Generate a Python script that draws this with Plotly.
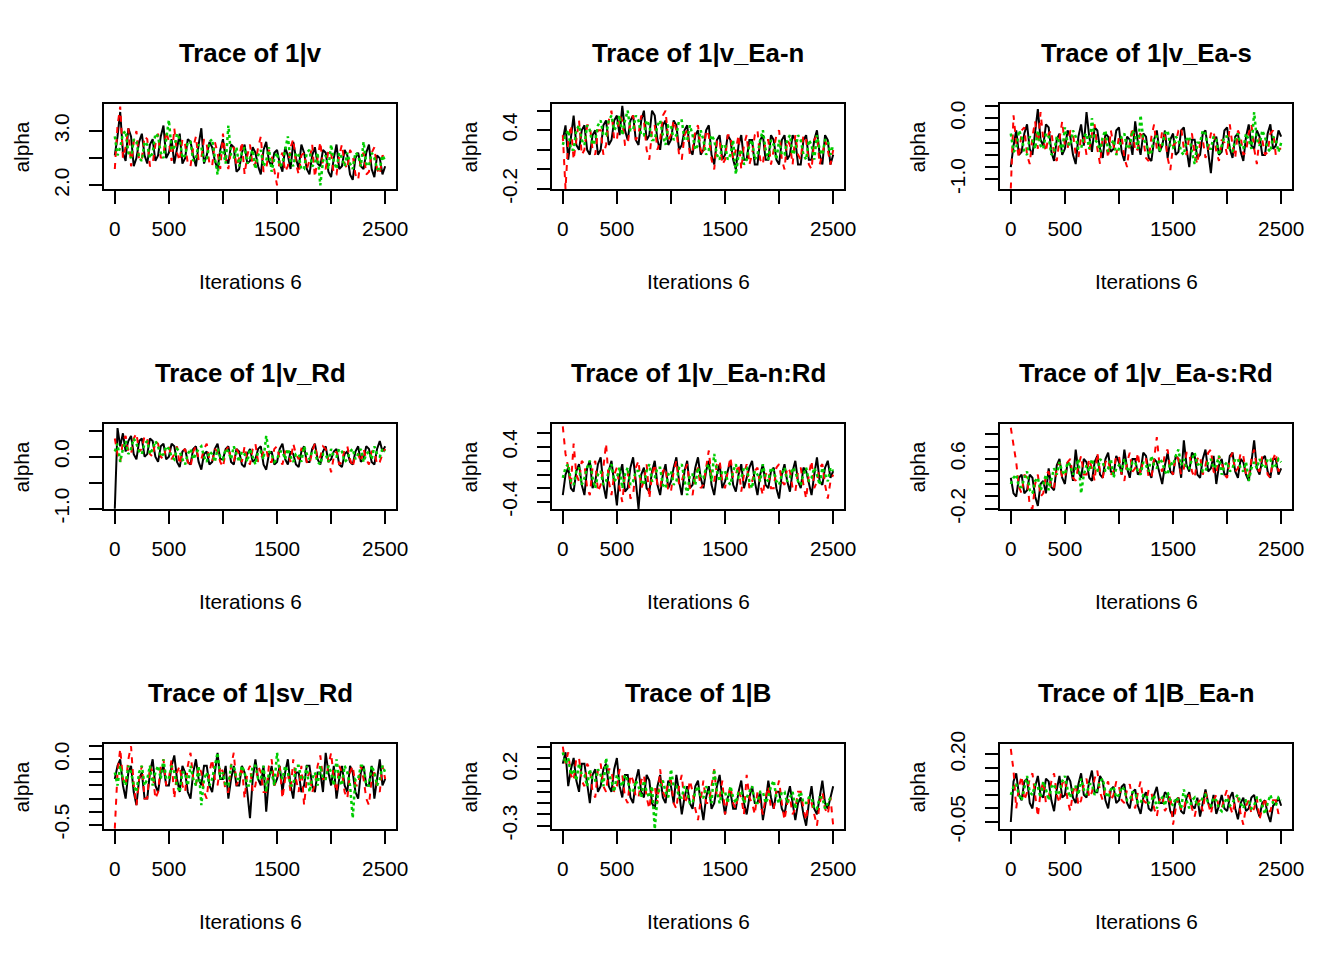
import plotly.graph_objects as go

iterations = list(range(0, 2501, 25))

titles = ["Trace of 1|v", "Trace of 1|v_Ea-n", "Trace of 1|v_Ea-s",
          "Trace of 1|v_Rd", "Trace of 1|v_Ea-n:Rd", "Trace of 1|v_Ea-s:Rd",
          "Trace of 1|sv_Rd", "Trace of 1|B", "Trace of 1|B_Ea-n"]
x_label = "Iterations 6"
y_label = "alpha"
x_tickvals = [0, 500, 1000, 1500, 2000, 2500]
x_ticktext = ["0", "500", "", "1500", "", "2500"]

chain_colors = ["#000000", "#FF0000", "#00CD00"]
chain_dash = ["solid", "6px,6px", "3px,3px"]
chain_width = [2, 2, 2.5]

# ---- panel 1: 1|v
p1_c1 = [2.55, 2.9, 3.35, 2.6, 2.45, 3.05, 2.9, 2.35, 2.5, 2.8,
         2.95, 2.55, 2.4, 2.75, 2.85, 2.45, 2.55, 2.9, 3.1, 2.5,
         2.6, 2.85, 2.4, 2.7, 2.95, 2.4, 2.5, 2.85, 2.8, 2.55,
         2.35, 2.75, 3.05, 2.4, 2.55, 2.8, 2.7, 2.45, 2.3, 2.65,
         2.85, 2.5, 2.4, 2.75, 2.7, 2.25, 2.3, 2.6, 2.75, 2.4,
         2.45, 2.7, 2.6, 2.35, 2.2, 2.65, 2.8, 2.45, 2.35, 2.6,
         2.65, 2.4, 2.25, 2.7, 2.55, 2.3, 2.8, 2.5, 2.3, 2.75,
         2.6, 2.3, 2.2, 2.55, 2.7, 2.4, 2.35, 2.65, 2.6, 2.25,
         2.15, 2.5, 2.75, 2.3, 2.35, 2.65, 2.55, 2.2, 2.1, 2.5,
         2.6, 2.35, 2.3, 2.6, 2.75, 2.3, 2.15, 2.55, 2.5, 2.2,
         2.35]
p1_c2 = [2.3, 3.1, 3.45, 2.5, 2.7, 3.05, 2.35, 2.8, 3.0, 2.45,
         2.5, 2.9, 2.85, 2.35, 2.4, 2.75, 2.95, 2.5, 2.55, 3.0,
         2.8, 2.45, 3.05, 2.6, 2.45, 2.85, 2.75, 2.4, 2.35, 2.7,
         2.9, 2.45, 2.5, 2.85, 2.75, 2.4, 2.35, 2.8, 2.6, 2.3,
         2.95, 2.5, 2.3, 2.65, 2.7, 2.35, 2.5, 2.8, 2.2, 2.55,
         2.75, 2.35, 2.4, 2.7, 2.9, 2.25, 2.3, 2.65, 2.55, 2.3,
         2.0, 2.5, 2.6, 2.25, 2.35, 2.7, 2.85, 2.4, 2.2, 2.55,
         2.6, 2.3, 2.45, 2.75, 2.15, 2.5, 2.8, 2.35, 2.3, 2.65,
         2.6, 2.2, 2.2, 2.55, 2.75, 2.4, 2.3, 2.65, 2.55, 2.2,
         2.1, 2.5, 2.6, 2.2, 2.25, 2.6, 2.7, 2.3, 2.2, 2.55,
         2.5]
p1_c3 = [2.9, 2.55, 2.7, 2.95, 3.0, 2.6, 2.5, 2.85, 2.8, 2.5,
         2.45, 2.8, 2.75, 2.5, 2.6, 2.95, 2.9, 2.6, 2.5, 2.85,
         3.2, 2.65, 2.7, 2.95, 2.85, 2.5, 2.55, 2.8, 2.8, 2.45,
         2.5, 2.75, 2.7, 2.45, 2.45, 2.8, 2.85, 2.5, 2.2, 2.6,
         2.65, 2.4, 3.1, 2.55, 2.5, 2.7, 2.35, 2.6, 2.7, 2.4,
         2.5, 2.65, 2.3, 2.55, 2.65, 2.35, 2.45, 2.7, 2.25, 2.5,
         2.6, 2.35, 2.4, 2.65, 2.9, 2.45, 2.35, 2.6, 2.55, 2.3,
         2.3, 2.6, 2.65, 2.35, 2.4, 2.6, 2.0, 2.45, 2.55, 2.3,
         2.75, 2.45, 2.3, 2.6, 2.5, 2.35, 2.6, 2.4, 2.3, 2.6,
         2.55, 2.35, 2.8, 2.4, 2.35, 2.6, 2.5, 2.3, 2.3, 2.55,
         2.45]

# ---- panel 2: 1|v_Ea-n
p2_c1 = [0.3, 0.45, 0.1, 0.35, 0.55, 0.25, 0.2, 0.4, 0.45, 0.2,
         0.15, 0.35, 0.4, 0.15, 0.2, 0.45, 0.5, 0.25, 0.3, 0.5,
         0.55, 0.35, 0.65, 0.4, 0.3, 0.5, 0.55, 0.3, 0.25, 0.5,
         0.6, 0.3, 0.35, 0.6, 0.55, 0.3, 0.2, 0.45, 0.5, 0.25,
         0.3, 0.5, 0.45, 0.2, 0.25, 0.4, 0.45, 0.2, 0.15, 0.35,
         0.4, 0.15, 0.2, 0.4, 0.45, 0.15, 0.05, 0.3, 0.35, 0.1,
         0.15, 0.35, 0.3, 0.1, 0.0, 0.25, 0.35, 0.1, 0.1, 0.3,
         0.3, 0.05, 0.05, 0.3, 0.35, 0.1, 0.1, 0.35, 0.3, 0.1,
         0.05, 0.3, 0.35, 0.1, 0.15, 0.35, 0.3, 0.05, 0.05, 0.3,
         0.35, 0.1, 0.1, 0.3, 0.4, 0.15, 0.05, 0.35, 0.3, 0.05,
         0.15]
p2_c2 = [0.35, -0.2, 0.3, 0.45, 0.1, 0.3, 0.5, 0.15, 0.2, 0.45,
         0.45, 0.2, 0.15, 0.4, 0.4, 0.15, 0.25, 0.5, 0.6, 0.3,
         0.3, 0.55, 0.5, 0.25, 0.25, 0.5, 0.55, 0.3, 0.35, 0.55,
         0.5, 0.2, 0.1, 0.4, 0.45, 0.2, 0.3, 0.55, 0.6, 0.3,
         0.35, 0.5, 0.4, 0.15, 0.1, 0.35, 0.4, 0.15, 0.2, 0.4,
         0.45, 0.2, 0.15, 0.4, 0.35, 0.1, 0.0, 0.3, 0.3, 0.05,
         0.1, 0.35, 0.35, 0.1, 0.2, 0.35, 0.0, 0.25, 0.35, 0.05,
         0.15, 0.35, 0.4, 0.1, 0.05, 0.3, 0.3, 0.05, 0.2, 0.35,
         0.4, 0.1, 0.0, 0.3, 0.25, 0.05, 0.35, 0.15, 0.1, 0.35,
         0.3, 0.05, 0.0, 0.3, 0.35, 0.05, 0.15, 0.3, 0.2, 0.05,
         0.2]
p2_c3 = [0.25, 0.35, 0.4, 0.2, 0.2, 0.4, 0.45, 0.3, 0.25, 0.45,
         0.4, 0.25, 0.3, 0.45, 0.5, 0.35, 0.35, 0.5, 0.55, 0.4,
         0.45, 0.55, 0.35, 0.5, 0.6, 0.4, 0.4, 0.55, 0.5, 0.35,
         0.35, 0.5, 0.45, 0.3, 0.3, 0.45, 0.5, 0.35, 0.25, 0.45,
         0.45, 0.3, 0.35, 0.5, 0.5, 0.3, 0.3, 0.45, 0.35, 0.2,
         0.25, 0.4, 0.3, 0.15, 0.2, 0.35, 0.3, 0.15, 0.1, 0.25,
         0.25, 0.1, 0.15, 0.3, -0.05, 0.15, 0.2, 0.05, 0.1, 0.25,
         0.3, 0.1, 0.15, 0.3, 0.4, 0.2, 0.1, 0.3, 0.25, 0.1,
         0.3, 0.15, 0.15, 0.3, 0.35, 0.15, 0.2, 0.35, 0.3, 0.15,
         0.1, 0.3, 0.25, 0.1, 0.35, 0.2, 0.15, 0.3, 0.3, 0.15,
         0.25]

# ---- panel 3: 1|v_Ea-s
p3_c1 = [-0.8, -0.45, -0.2, -0.6, -0.55, -0.25, -0.1, -0.5, -0.6, -0.2,
         0.15, -0.35, -0.45, -0.1, -0.15, -0.55, -0.7, -0.35, -0.25, -0.6,
         -0.5, -0.2, -0.3, -0.6, -0.75, -0.3, -0.1, -0.45, 0.1, -0.3,
         -0.55, -0.15, -0.2, -0.5, -0.65, -0.25, -0.3, -0.55, -0.5, -0.2,
         -0.15, -0.55, -0.7, -0.3, -0.35, -0.6, -0.05, -0.4, -0.6, -0.25,
         -0.3, -0.65, -0.7, -0.35, -0.2, -0.55, -0.45, -0.2, -0.65, -0.35,
         -0.25, -0.6, -0.55, -0.2, -0.15, -0.5, -0.8, -0.35, -0.35, -0.65,
         -0.6, -0.25, -0.2, -0.55, -0.9, -0.4, -0.3, -0.6, -0.55, -0.2,
         -0.15, -0.5, -0.65, -0.3, -0.25, -0.55, -0.7, -0.3, -0.1, -0.45,
         -0.5, -0.2, -0.3, -0.6, -0.6, -0.25, -0.1, -0.5, -0.45, -0.2,
         -0.3]
p3_c2 = [-1.15, 0.05, -0.4, -0.65, -0.2, -0.15, -0.6, -0.75, -0.3, -0.05,
         -0.5, 0.1, -0.35, -0.55, -0.25, -0.2, -0.6, -0.7, -0.35, -0.05,
         -0.45, -0.5, -0.2, -0.25, -0.6, -0.65, -0.3, -0.3, -0.6, -0.55,
         -0.25, -0.1, -0.5, -0.75, -0.3, -0.35, -0.65, -0.2, -0.45, -0.6,
         -0.3, -0.3, -0.65, -0.8, -0.4, -0.15, -0.55, -0.5, -0.2, -0.35,
         -0.65, -0.7, -0.3, -0.1, -0.5, -0.55, -0.2, -0.3, -0.65, -0.85,
         -0.45, -0.4, -0.2, -0.15, -0.5, -0.6, -0.3, -0.25, -0.6, -0.75,
         -0.4, -0.35, -0.65, -0.5, -0.25, -0.2, -0.55, -0.7, -0.35, -0.4,
         -0.6, -0.1, -0.45, -0.65, -0.2, -0.3, -0.6, -0.55, -0.25, -0.1,
         -0.5, -0.75, -0.3, -0.35, -0.6, -0.55, -0.25, -0.2, -0.6, -0.5,
         -0.5]
p3_c3 = [-0.25, -0.55, -0.5, -0.2, -0.3, -0.55, -0.6, -0.3, -0.35, -0.5,
         -0.2, -0.45, -0.5, -0.25, -0.3, -0.6, -0.55, -0.3, -0.4, -0.55,
         -0.15, -0.4, -0.45, -0.2, -0.3, -0.5, -0.5, -0.3, -0.25, -0.5,
         0.0, -0.35, -0.4, -0.55, -0.3, -0.2, -0.55, -0.45, -0.35, -0.6,
         -0.5, -0.3, -0.25, -0.5, -0.45, -0.2, -0.3, -0.5, 0.05, -0.35,
         -0.4, -0.6, -0.55, -0.3, -0.3, -0.55, -0.45, -0.25, -0.2, -0.45,
         -0.5, -0.3, -0.35, -0.55, -0.6, -0.35, -0.3, -0.55, -0.75, -0.4,
         -0.4, -0.2, -0.25, -0.5, -0.5, -0.3, -0.35, -0.6, -0.45, -0.3,
         -0.3, -0.5, -0.55, -0.35, -0.25, -0.45, -0.5, -0.25, -0.35, -0.5,
         0.1, -0.35, -0.45, -0.2, -0.3, -0.5, -0.55, -0.3, -0.35, -0.55,
         -0.4]

# ---- panel 4: 1|v_Rd
p4_c1 = [-1.0, 0.55, 0.2, 0.45, 0.1, 0.3, 0.4, 0.05, -0.05, 0.3,
         0.35, 0.0, 0.05, 0.35, 0.3, 0.0, -0.1, 0.2, 0.25, -0.05,
         0.0, 0.25, 0.2, -0.1, -0.2, 0.1, 0.15, -0.1, -0.15, 0.15,
         0.2, -0.1, -0.25, 0.05, 0.1, -0.15, -0.1, 0.15, 0.25, -0.05,
         -0.05, 0.15, 0.2, -0.1, -0.15, 0.15, 0.1, -0.15, -0.2, 0.05,
         0.15, -0.1, -0.05, 0.15, 0.2, -0.15, -0.25, 0.05, 0.1, -0.15,
         -0.1, 0.15, 0.25, -0.05, -0.15, 0.1, 0.05, -0.15, -0.2, 0.1,
         0.2, -0.1, -0.1, 0.15, 0.25, -0.05, -0.15, 0.1, 0.2, -0.1,
         -0.05, 0.1, 0.15, -0.15, -0.2, 0.05, 0.1, -0.1, -0.15, 0.1,
         0.2, -0.1, -0.05, 0.2, 0.15, -0.1, -0.15, 0.15, 0.3, 0.1,
         0.2]
p4_c2 = [0.35, 0.05, -0.1, 0.3, 0.4, 0.1, 0.05, 0.35, 0.45, 0.1,
         0.15, 0.4, 0.35, 0.05, 0.0, 0.3, 0.25, 0.0, -0.05, 0.2,
         0.2, -0.05, 0.05, 0.2, -0.15, 0.1, 0.15, -0.1, -0.2, 0.1,
         0.2, -0.05, -0.05, 0.15, 0.25, -0.05, -0.1, 0.15, 0.1, -0.1,
         -0.2, 0.1, 0.2, -0.05, -0.1, 0.15, 0.05, -0.1, 0.2, -0.05,
         -0.15, 0.15, 0.25, -0.1, -0.05, 0.1, 0.15, -0.1, -0.1, 0.15,
         0.2, -0.05, -0.15, 0.1, 0.1, -0.1, 0.25, 0.05, -0.05, 0.15,
         0.1, -0.1, -0.15, 0.1, 0.25, -0.05, 0.0, 0.2, 0.15, -0.1,
         -0.3, 0.0, 0.1, -0.15, -0.1, 0.15, 0.2, -0.05, -0.2, 0.05,
         0.05, -0.1, 0.15, -0.05, -0.15, 0.1, 0.1, -0.15, -0.1, 0.05,
         0.15]
p4_c3 = [0.1, 0.25, -0.1, 0.15, 0.3, 0.05, 0.15, 0.35, 0.25, 0.1,
         0.05, 0.25, 0.3, 0.05, 0.15, 0.3, 0.2, 0.0, 0.05, 0.2,
         0.15, 0.0, -0.05, 0.15, 0.1, -0.05, -0.15, 0.05, 0.15, -0.05,
         0.05, 0.15, 0.2, 0.0, -0.1, 0.1, 0.05, -0.1, 0.15, 0.0,
         -0.05, 0.15, 0.1, -0.05, 0.2, 0.05, -0.1, 0.1, 0.05, -0.1,
         0.15, 0.0, -0.15, 0.1, 0.1, -0.05, 0.4, 0.1, 0.05, -0.1,
         -0.05, 0.1, 0.1, -0.05, 0.15, 0.0, -0.1, 0.05, 0.05, -0.1,
         0.2, 0.05, -0.05, 0.1, 0.1, -0.1, -0.15, 0.05, 0.05, -0.1,
         0.15, 0.0, 0.0, 0.15, 0.1, -0.1, -0.05, 0.1, 0.15, -0.05,
         0.05, 0.15, -0.1, 0.05, 0.1, -0.05, 0.2, 0.05, 0.0, 0.15,
         0.1]

# ---- panel 5: 1|v_Ea-n:Rd
p5_c1 = [-0.3, 0.0, 0.1, -0.2, -0.25, 0.05, 0.15, -0.15, -0.3, 0.1,
         0.2, -0.2, -0.1, 0.15, 0.25, -0.15, -0.35, 0.05, 0.2, -0.1,
         -0.45, 0.0, 0.15, -0.25, -0.2, 0.1, 0.25, -0.1, -0.5, 0.0,
         0.1, -0.2, -0.25, 0.05, 0.2, -0.15, -0.3, 0.0, 0.15, -0.2,
         -0.1, 0.1, 0.25, -0.1, -0.3, 0.05, 0.2, -0.2, -0.15, 0.1,
         0.25, -0.05, -0.2, 0.05, 0.2, -0.15, -0.3, 0.0, 0.15, -0.2,
         -0.1, 0.05, 0.2, -0.15, -0.25, 0.0, 0.15, -0.2, -0.05, 0.1,
         0.2, -0.1, -0.3, 0.0, 0.15, -0.15, -0.2, 0.05, 0.1, -0.2,
         -0.35, 0.0, 0.15, -0.1, -0.25, 0.05, 0.2, -0.1, -0.2, 0.1,
         0.05, -0.15, -0.3, 0.0, 0.25, -0.1, -0.15, 0.1, 0.2, -0.05,
         0.05]
p5_c2 = [0.7, 0.3, 0.1, -0.15, 0.45, 0.0, -0.1, 0.2, 0.15, -0.2,
         -0.3, 0.1, 0.2, -0.25, -0.15, 0.1, 0.45, -0.1, -0.3, 0.0,
         0.1, -0.2, -0.4, 0.0, 0.05, -0.35, -0.3, 0.1, 0.2, -0.2,
         -0.1, 0.15, -0.35, 0.0, 0.15, -0.15, -0.2, 0.05, 0.1, -0.25,
         -0.25, 0.05, 0.2, -0.15, -0.1, 0.05, 0.15, -0.2, -0.3, 0.0,
         0.1, -0.2, -0.15, 0.1, 0.35, -0.05, -0.1, 0.15, 0.2, -0.1,
         -0.2, 0.05, 0.25, -0.05, 0.0, 0.15, -0.25, 0.0, 0.15, -0.2,
         -0.1, 0.05, 0.1, -0.15, -0.3, 0.0, 0.05, -0.2, -0.2, 0.1,
         0.15, -0.1, -0.15, 0.1, 0.05, -0.2, -0.25, 0.05, 0.1, -0.15,
         -0.35, 0.0, 0.2, -0.2, -0.1, 0.1, 0.15, -0.15, -0.35, -0.1,
         0.0]
p5_c3 = [-0.05, 0.1, 0.15, -0.1, -0.15, 0.05, 0.1, -0.15, -0.05, 0.1,
         0.2, -0.05, -0.2, 0.0, 0.05, -0.15, -0.1, 0.05, 0.15, -0.1,
         -0.05, 0.1, -0.2, 0.0, 0.1, -0.15, -0.1, 0.05, 0.05, -0.1,
         -0.15, 0.05, 0.15, -0.1, -0.05, 0.1, 0.1, -0.15, -0.2, 0.0,
         0.05, -0.15, -0.1, 0.1, 0.15, -0.1, -0.3, 0.0, 0.0, -0.15,
         0.1, -0.05, -0.05, 0.1, 0.15, -0.1, 0.3, 0.05, -0.1, 0.05,
         0.05, -0.1, -0.15, 0.05, 0.15, -0.05, -0.05, 0.1, 0.1, -0.1,
         -0.2, 0.05, 0.0, -0.1, 0.15, -0.05, -0.1, 0.1, 0.05, -0.1,
         -0.15, 0.0, 0.1, -0.1, -0.05, 0.1, 0.05, -0.1, -0.15, 0.0,
         0.1, -0.1, -0.05, 0.1, 0.0, -0.15, 0.1, 0.0, -0.1, 0.1,
         0.05]

# ---- panel 6: 1|v_Ea-s:Rd
p6_c1 = [0.3, 0.05, 0.0, 0.3, 0.35, 0.05, 0.1, 0.35, 0.3, 0.0,
         -0.15, 0.2, 0.25, 0.05, 0.45, 0.15, 0.1, 0.5, 0.6, 0.3,
         0.2, 0.55, 0.5, 0.25, 0.75, 0.4, 0.3, 0.6, 0.55, 0.3,
         0.25, 0.55, 0.65, 0.35, 0.3, 0.6, 0.7, 0.4, 0.35, 0.65,
         0.55, 0.35, 0.75, 0.45, 0.3, 0.6, 0.6, 0.35, 0.4, 0.7,
         0.65, 0.4, 0.3, 0.6, 0.55, 0.35, 0.2, 0.5, 0.7, 0.4,
         0.35, 0.65, 0.6, 0.3, 0.9, 0.5, 0.4, 0.7, 0.65, 0.35,
         0.3, 0.6, 0.75, 0.4, 0.45, 0.65, 0.2, 0.5, 0.6, 0.35,
         0.35, 0.65, 0.7, 0.4, 0.3, 0.6, 0.55, 0.35, 0.25, 0.55,
         0.9, 0.45, 0.35, 0.6, 0.65, 0.4, 0.3, 0.6, 0.6, 0.35,
         0.45]
p6_c2 = [1.1, 0.8, 0.55, 0.15, 0.05, 0.35, 0.3, -0.15, -0.2, 0.2,
         0.35, 0.0, 0.05, 0.35, 0.4, 0.1, 0.15, 0.45, 0.55, 0.3,
         0.3, 0.55, 0.6, 0.3, 0.25, 0.5, 0.65, 0.35, 0.35, 0.6,
         0.45, 0.25, 0.7, 0.4, 0.3, 0.55, 0.6, 0.35, 0.4, 0.65,
         0.65, 0.35, 0.25, 0.55, 0.7, 0.4, 0.45, 0.7, 0.35, 0.6,
         0.6, 0.3, 0.3, 0.6, 0.95, 0.5, 0.4, 0.7, 0.75, 0.45,
         0.35, 0.65, 0.6, 0.35, 0.45, 0.7, 0.7, 0.4, 0.3, 0.6,
         0.65, 0.35, 0.5, 0.7, 0.75, 0.4, 0.35, 0.65, 0.55, 0.35,
         0.3, 0.6, 0.7, 0.4, 0.45, 0.7, 0.65, 0.35, 0.3, 0.6,
         0.75, 0.45, 0.4, 0.65, 0.6, 0.35, 0.3, 0.6, 0.7, 0.4,
         0.5]
p6_c3 = [0.2, 0.3, 0.35, 0.15, 0.15, 0.3, 0.4, 0.1, 0.05, 0.25,
         0.3, 0.1, 0.2, 0.35, 0.1, 0.3, 0.45, 0.35, 0.55, 0.4,
         0.35, 0.55, 0.5, 0.35, 0.45, 0.6, 0.05, 0.35, 0.5, 0.4,
         0.6, 0.45, 0.4, 0.6, 0.55, 0.4, 0.45, 0.6, 0.3, 0.45,
         0.5, 0.4, 0.6, 0.45, 0.4, 0.55, 0.55, 0.4, 0.35, 0.55,
         0.5, 0.4, 0.65, 0.5, 0.45, 0.6, 0.55, 0.4, 0.35, 0.55,
         0.5, 0.65, 0.75, 0.5, 0.6, 0.45, 0.45, 0.6, 0.7, 0.5,
         0.55, 0.4, 0.4, 0.55, 0.6, 0.45, 0.5, 0.65, 0.35, 0.5,
         0.55, 0.4, 0.45, 0.6, 0.6, 0.45, 0.4, 0.55, 0.25, 0.45,
         0.55, 0.45, 0.6, 0.5, 0.45, 0.6, 0.6, 0.45, 0.5, 0.6,
         0.55]

# ---- panel 7: 1|sv_Rd
p7_c1 = [-0.15, -0.05, 0.0, -0.2, -0.3, -0.1, -0.05, -0.25, -0.35, -0.15,
         -0.1, -0.3, -0.3, -0.1, 0.0, -0.2, -0.25, -0.1, -0.05, -0.2,
         -0.2, -0.05, 0.03, -0.15, -0.25, -0.05, -0.1, -0.25, -0.3, -0.1,
         0.0, -0.15, -0.2, -0.05, -0.05, -0.2, -0.25, -0.1, 0.05, -0.15,
         -0.15, -0.05, -0.3, -0.15, -0.05, -0.2, -0.2, -0.05, -0.1, -0.25,
         -0.45, -0.15, 0.0, -0.15, -0.2, -0.05, -0.4, -0.15, -0.05, -0.2,
         -0.15, -0.05, -0.25, -0.1, 0.0, -0.2, -0.3, -0.1, -0.1, -0.25,
         -0.2, -0.05, -0.05, -0.2, -0.25, -0.1, -0.1, -0.25, 0.05, -0.1,
         -0.2, -0.05, -0.3, -0.15, -0.05, -0.2, -0.25, -0.05, -0.1, -0.25,
         -0.3, -0.1, -0.05, -0.2, -0.2, -0.05, -0.3, -0.15, 0.0, -0.2,
         -0.15]
p7_c2 = [-0.53, -0.1, 0.08, -0.15, -0.2, 0.0, 0.1, -0.2, -0.35, -0.15,
         -0.05, -0.3, -0.3, -0.05, -0.1, -0.3, -0.25, -0.05, 0.0, -0.2,
         -0.15, 0.0, -0.3, -0.1, -0.05, -0.2, -0.25, -0.05, 0.05, -0.15,
         -0.2, -0.05, -0.1, -0.25, -0.3, -0.1, 0.0, -0.15, -0.2, -0.05,
         -0.1, -0.25, -0.25, -0.05, 0.05, -0.2, -0.15, -0.05, -0.3, -0.1,
         -0.05, -0.25, -0.2, -0.05, -0.1, -0.25, -0.25, -0.05, 0.0, -0.2,
         -0.15, -0.05, -0.3, -0.15, -0.1, -0.25, 0.0, -0.15, -0.25, -0.05,
         -0.35, -0.15, -0.1, -0.25, -0.2, -0.05, 0.03, -0.15, -0.15, -0.05,
         0.05, -0.15, -0.25, -0.05, -0.1, -0.25, -0.3, -0.1, -0.05, -0.2,
         -0.2, -0.05, -0.15, -0.3, -0.35, -0.15, -0.1, -0.2, -0.25, -0.05,
         -0.15]
p7_c3 = [-0.1, -0.2, -0.05, -0.15, -0.2, -0.05, -0.1, -0.2, -0.25, -0.1,
         -0.05, -0.2, -0.15, -0.05, -0.2, -0.1, -0.05, -0.15, 0.0, -0.15,
         -0.15, -0.05, -0.1, -0.2, -0.25, -0.1, -0.1, -0.2, -0.05, -0.15,
         -0.2, -0.05, -0.35, -0.15, -0.1, -0.2, -0.15, -0.05, 0.05, -0.15,
         -0.1, -0.2, -0.2, -0.05, -0.05, -0.15, -0.15, -0.05, -0.1, -0.2,
         -0.2, -0.05, -0.05, -0.15, -0.15, -0.05, -0.25, -0.1, -0.1, -0.2,
         0.05, -0.1, -0.15, -0.05, -0.1, -0.2, -0.2, -0.05, -0.05, -0.15,
         -0.15, -0.05, -0.25, -0.15, -0.1, -0.2, -0.05, -0.15, -0.15, -0.05,
         -0.1, -0.2, 0.0, -0.15, -0.2, -0.05, -0.1, -0.2, -0.45, -0.15,
         -0.15, -0.05, -0.05, -0.2, -0.2, -0.05, -0.1, -0.2, -0.15, -0.05,
         -0.1]

# ---- panel 8: 1|B
p8_c1 = [0.25, 0.35, 0.05, 0.2, 0.3, 0.1, 0.0, 0.25, 0.25, 0.05,
         -0.1, 0.15, 0.2, 0.0, 0.05, 0.2, 0.25, 0.05, 0.0, 0.2,
         0.3, 0.05, -0.05, 0.15, 0.15, -0.05, -0.1, 0.1, 0.2, 0.0,
         -0.05, 0.15, 0.1, -0.1, -0.15, 0.05, 0.15, -0.05, -0.1, 0.1,
         0.05, -0.1, 0.15, 0.0, -0.2, -0.05, 0.05, -0.1, -0.15, 0.05,
         0.1, -0.1, -0.25, -0.05, 0.05, -0.15, -0.1, 0.05, 0.15, -0.05,
         -0.2, -0.05, 0.0, -0.15, -0.15, 0.0, 0.1, -0.1, -0.2, -0.05,
         0.05, -0.1, -0.1, 0.0, -0.25, -0.1, 0.1, -0.05, -0.15, 0.0,
         0.0, -0.15, -0.2, -0.05, 0.05, -0.1, -0.25, -0.1, -0.05, -0.2,
         -0.3, -0.1, 0.05, -0.15, -0.2, -0.05, 0.1, -0.1, -0.15, -0.05,
         0.05]
p8_c2 = [0.4, 0.25, 0.35, 0.15, 0.1, 0.3, 0.3, 0.1, 0.05, 0.25,
         0.2, 0.0, -0.05, 0.2, 0.25, 0.05, 0.0, 0.2, 0.2, 0.0,
         0.05, 0.2, 0.15, -0.05, -0.1, 0.15, 0.1, -0.05, -0.05, 0.1,
         0.15, -0.05, -0.15, 0.05, 0.05, -0.1, 0.2, 0.0, -0.05, 0.1,
         0.1, -0.1, -0.15, 0.05, 0.15, -0.1, -0.05, 0.1, 0.0, -0.15,
         -0.25, -0.05, 0.1, -0.1, -0.1, 0.05, 0.2, -0.05, -0.05, 0.1,
         -0.2, -0.05, 0.05, -0.1, -0.15, 0.0, -0.05, -0.2, 0.15, -0.05,
         -0.1, -0.2, 0.0, -0.1, -0.2, -0.05, 0.05, -0.15, -0.15, 0.0,
         0.1, -0.1, -0.25, -0.1, -0.05, -0.2, -0.15, 0.0, 0.0, -0.15,
         -0.25, -0.05, -0.1, -0.2, -0.3, -0.1, 0.0, -0.15, -0.2, -0.05,
         -0.3]
p8_c3 = [0.35, 0.25, 0.3, 0.15, 0.2, 0.1, 0.25, 0.15, 0.15, 0.05,
         0.2, 0.1, 0.1, 0.2, 0.15, 0.05, 0.3, 0.15, 0.1, 0.0,
         0.15, 0.1, 0.05, 0.15, 0.1, 0.0, 0.0, 0.1, 0.05, -0.05,
         0.1, 0.0, -0.05, 0.05, -0.33, -0.05, 0.05, 0.1, 0.0, -0.05,
         0.2, 0.05, 0.05, -0.05, -0.05, 0.05, 0.0, -0.1, -0.1, 0.0,
         0.05, -0.05, -0.05, 0.05, 0.0, -0.1, 0.2, 0.0, -0.1, 0.0,
         0.0, -0.1, 0.05, -0.05, -0.1, 0.0, 0.0, -0.1, -0.05, 0.0,
         0.05, -0.1, -0.1, 0.0, 0.0, -0.1, -0.05, 0.05, 0.1, -0.05,
         -0.1, 0.0, 0.0, -0.1, -0.05, 0.0, -0.15, -0.05, 0.0, -0.1,
         -0.1, -0.05, -0.05, -0.15, -0.15, -0.05, -0.05, -0.15, -0.1, -0.05,
         -0.05]

# ---- panel 9: 1|B_Ea-n
p9_c1 = [-0.05, 0.1, 0.13, 0.05, 0.03, 0.1, 0.11, 0.02, 0.0, 0.08,
         0.12, 0.05, 0.04, 0.11, 0.1, 0.03, -0.01, 0.07, 0.12, 0.04,
         0.05, 0.12, 0.1, 0.04, 0.02, 0.09, 0.13, 0.05, 0.04, 0.1,
         0.14, 0.06, 0.06, 0.12, 0.1, 0.03, 0.0, 0.07, 0.08, 0.02,
         0.03, 0.08, 0.09, 0.02, 0.0, 0.06, 0.07, 0.01, -0.02, 0.04,
         0.06, 0.0, -0.01, 0.05, 0.08, 0.02, 0.02, 0.06, 0.05, -0.01,
         -0.03, 0.03, 0.04, -0.01, -0.02, 0.04, 0.06, 0.01, 0.0, 0.04,
         -0.03, 0.02, 0.07, 0.02, 0.0, 0.05, -0.02, 0.01, 0.05, 0.0,
         -0.01, 0.04, 0.06, 0.0, -0.04, 0.02, 0.04, -0.01, 0.0, 0.04,
         0.05, 0.0, -0.03, 0.02, 0.03, -0.02, -0.05, 0.01, 0.02, 0.04,
         0.01]
p9_c2 = [0.22, 0.14, 0.0, 0.08, 0.12, 0.03, 0.06, 0.11, 0.13, 0.04,
         -0.03, 0.06, 0.1, 0.02, 0.04, 0.1, 0.13, 0.05, 0.02, 0.09,
         0.11, 0.03, -0.01, 0.06, 0.09, 0.01, 0.03, 0.09, 0.11, 0.04,
         0.06, 0.11, 0.14, 0.06, 0.03, 0.08, 0.1, 0.03, 0.05, 0.1,
         0.08, 0.03, 0.02, 0.07, 0.09, 0.03, 0.0, 0.06, 0.1, 0.03,
         0.02, 0.07, 0.06, 0.0, -0.03, 0.03, 0.05, -0.01, 0.01, 0.05,
         -0.06, 0.0, 0.04, -0.01, 0.0, 0.04, 0.05, 0.0, -0.03, 0.02,
         0.03, -0.01, 0.06, 0.02, -0.02, 0.03, 0.05, 0.0, 0.0, 0.04,
         0.07, 0.01, -0.02, 0.03, 0.04, -0.02, -0.06, 0.01, 0.03, -0.02,
         0.0, 0.04, -0.04, 0.0, 0.04, -0.01, -0.01, 0.03, 0.03, -0.02,
         0.0]
p9_c3 = [0.05, 0.08, 0.09, 0.05, 0.03, 0.08, 0.12, 0.06, 0.05, 0.09,
         0.08, 0.04, 0.1, 0.07, 0.03, 0.08, 0.09, 0.05, 0.06, 0.1,
         0.12, 0.07, 0.04, 0.08, 0.08, 0.05, 0.11, 0.07, 0.05, 0.09,
         0.09, 0.05, 0.07, 0.1, 0.11, 0.06, 0.04, 0.07, 0.08, 0.04,
         0.05, 0.08, 0.07, 0.03, 0.03, 0.06, 0.06, 0.02, 0.02, 0.05,
         0.05, 0.02, 0.03, 0.05, 0.0, 0.03, 0.04, 0.01, 0.06, 0.03,
         0.01, 0.04, 0.03, 0.0, 0.07, 0.03, 0.0, 0.03, 0.04, 0.01,
         0.02, 0.04, 0.05, 0.02, 0.01, 0.04, 0.03, 0.0, -0.01, 0.02,
         0.04, 0.01, 0.02, 0.04, 0.05, 0.02, 0.0, 0.03, 0.03, 0.0,
         0.01, 0.04, 0.04, 0.01, -0.02, 0.02, 0.05, 0.02, 0.01, 0.04,
         0.03]

chains = [
    [p1_c1, p1_c2, p1_c3], [p2_c1, p2_c2, p2_c3], [p3_c1, p3_c2, p3_c3],
    [p4_c1, p4_c2, p4_c3], [p5_c1, p5_c2, p5_c3], [p6_c1, p6_c2, p6_c3],
    [p7_c1, p7_c2, p7_c3], [p8_c1, p8_c2, p8_c3], [p9_c1, p9_c2, p9_c3],
]

y_tickvals = [
    [2.0, 2.5, 3.0, 3.5],
    [-0.2, 0.0, 0.2, 0.4, 0.6],
    [-1.0, -0.8, -0.6, -0.4, -0.2, 0.0, 0.2],
    [-1.0, -0.5, 0.0, 0.5],
    [-0.4, -0.2, 0.0, 0.2, 0.4, 0.6],
    [-0.2, 0.0, 0.2, 0.4, 0.6, 0.8, 1.0],
    [-0.5, -0.4, -0.3, -0.2, -0.1, 0.0, 0.1],
    [-0.3, -0.2, -0.1, 0.0, 0.1, 0.2, 0.3, 0.4],
    [-0.05, 0.0, 0.05, 0.10, 0.15, 0.20],
]
y_ticktext = [
    ["2.0", "", "3.0", ""],
    ["-0.2", "", "", "0.4", ""],
    ["-1.0", "", "", "", "", "0.0", ""],
    ["-1.0", "", "0.0", ""],
    ["-0.4", "", "", "", "0.4", ""],
    ["-0.2", "", "", "", "0.6", "", ""],
    ["-0.5", "", "", "", "", "0.0", ""],
    ["-0.3", "", "", "", "", "0.2", "", ""],
    ["-0.05", "", "", "", "", "0.20"],
]
y_ranges = [
    [1.926, 3.497], [-0.203, 0.668], [-1.164, 0.234],
    [-1.012, 0.629], [-0.507, 0.736], [-0.205, 1.16],
    [-0.535, 0.117], [-0.332, 0.424], [-0.077, 0.238],
]

# The page places the figure 8 px in from the top-left corner, so the
# figure is made 8 px smaller and every target pixel is shifted by 8.
OFF = 8
W, H = 1344 - OFF, 960 - OFF
FONT = "Liberation Sans, Arial, sans-serif"
BASE = 20.8
TITLE = 25.8


def px_x(p):
    return (p - OFF) / W


def px_y(p):
    return 1 - (p - OFF) / H


fig = go.Figure()
annotations = []
layout_axes = {}

for i in range(9):
    r, c = divmod(i, 3)
    sfx = "" if i == 0 else str(i + 1)
    x0 = px_x(104 + 448 * c)
    x1 = px_x(396 + 448 * c)
    ytop = px_y(104 + 320 * r)
    ybot = px_y(189.3 + 320 * r)
    for k in range(3):
        vals = chains[i][k]
        fig.add_trace(go.Scatter(
            x=iterations[:len(vals)], y=vals, mode="lines",
            line=dict(color=chain_colors[k], width=chain_width[k],
                      dash=chain_dash[k]),
            xaxis="x" + sfx, yaxis="y" + sfx,
            showlegend=False, hoverinfo="skip"))
    common = dict(showline=True, linewidth=2, linecolor="black", mirror=True,
                  showgrid=False, zeroline=False, ticks="outside", ticklen=13,
                  tickwidth=2, tickcolor="black", automargin=False,
                  tickfont=dict(family=FONT, size=BASE, color="black"))
    layout_axes["xaxis" + sfx] = dict(
        domain=[x0, x1], anchor="y" + sfx, range=[-100, 2600],
        tickmode="array", tickvals=x_tickvals, ticktext=x_ticktext,
        ticklabelstandoff=7, **common)
    layout_axes["yaxis" + sfx] = dict(
        domain=[ybot, ytop], anchor="x" + sfx, range=y_ranges[i],
        tickmode="array", tickvals=y_tickvals[i], ticktext=y_ticktext[i],
        tickangle=-90, ticklabelstandoff=12, **common)
    xc = (x0 + x1) / 2
    annotations.append(dict(
        text="<b>" + titles[i] + "</b>", x=xc, y=px_y(53 + 320 * r),
        xref="paper", yref="paper", showarrow=False, xanchor="center",
        yanchor="middle", font=dict(family=FONT, size=TITLE, color="black")))
    annotations.append(dict(
        text=x_label, x=xc, y=px_y(281 + 320 * r),
        xref="paper", yref="paper", showarrow=False, xanchor="center",
        yanchor="middle", font=dict(family=FONT, size=BASE, color="black")))
    annotations.append(dict(
        text=y_label, x=px_x(20.5 + 448 * c), y=px_y(147 + 320 * r),
        xref="paper", yref="paper", showarrow=False, xanchor="center",
        yanchor="middle", textangle=-90, borderpad=0,
        font=dict(family=FONT, size=BASE, color="black")))

fig.update_layout(
    width=W, height=H, margin=dict(l=0, r=0, t=0, b=0),
    paper_bgcolor="white", plot_bgcolor="white",
    annotations=annotations, **layout_axes)

fig.write_html("out.html")
